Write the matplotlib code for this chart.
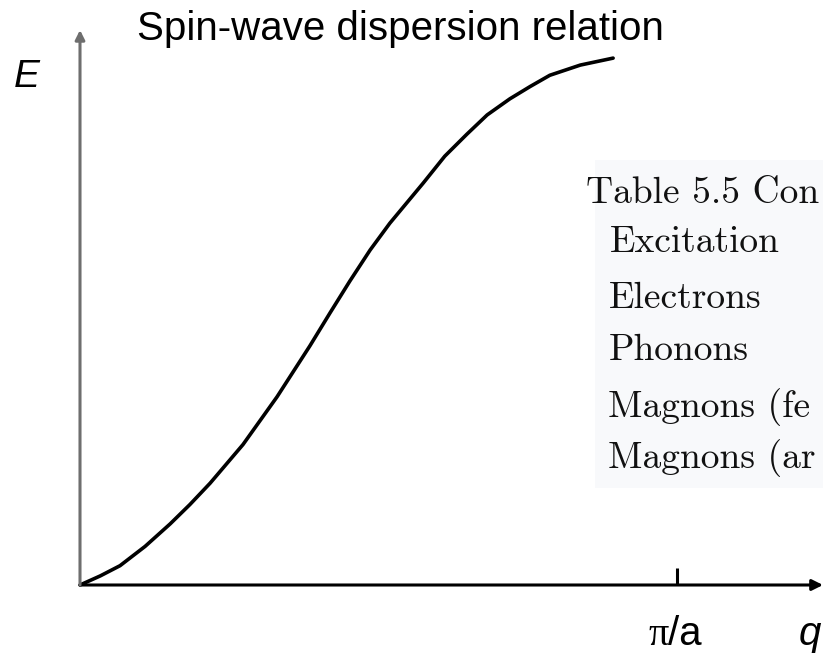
import matplotlib
matplotlib.use("Agg")
import matplotlib.pyplot as plt
from matplotlib.patches import Rectangle

# Dispersion curve: wavevector q in units of pi/a, energy E normalised to its top value
q_values = [0.000, 0.034, 0.067, 0.109, 0.151, 0.184, 0.218, 0.273, 0.330,
            0.385, 0.419, 0.452, 0.486, 0.519, 0.575, 0.611, 0.648, 0.682,
            0.720, 0.754, 0.787, 0.838, 0.893]
e_values = [0.000, 0.017, 0.036, 0.072, 0.114, 0.150, 0.190, 0.262, 0.351,
            0.446, 0.508, 0.567, 0.625, 0.675, 0.750, 0.800, 0.841, 0.877,
            0.907, 0.930, 0.951, 0.970, 0.983]

zone_edge = 1.0          # q = pi/a
title = "Spin-wave dispersion relation"
x_label = "q"
y_label = "E"
edge_label = ("π", "/a")
table_lines = ["Table 5.5 Con", "Excitation", "Electrons", "Phonons",
               "Magnons (fe", "Magnons (ar"]

W, H = 823, 653
fig = plt.figure(figsize=(W / 100, H / 100), dpi=100)
fig.patch.set_facecolor("white")

def fx(px):
    return px / W

def fy(py):
    return 1 - py / H

# axes: origin at pixel (80, 585), right edge of figure, top arrow at y=30
ax = fig.add_axes([fx(80), fy(585), 1 - fx(80), (585 - 30) / H])
ax.set_xlim(0, (W - 80) / 597)
ax.set_ylim(0, (585 - 30) / 536)
ax.axis("off")

# faint backdrop behind the table excerpt
fig.patches.append(Rectangle((fx(595), fy(488)), 1 - fx(595), (488 - 160) / H,
                             transform=fig.transFigure, facecolor="#f8f9fb",
                             edgecolor="none", zorder=0))

# coordinate axes with arrowheads
ax.annotate("", xy=(1.0, 0), xytext=(0, 0), xycoords="axes fraction",
            arrowprops=dict(arrowstyle="-|>", color="black", lw=2.2,
                            mutation_scale=16, shrinkA=0, shrinkB=0),
            annotation_clip=False)
ax.annotate("", xy=(0, 1.0), xytext=(0, 0), xycoords="axes fraction",
            arrowprops=dict(arrowstyle="-|>", color="#6e6e6e", lw=2.2,
                            mutation_scale=14, shrinkA=0, shrinkB=0),
            annotation_clip=False)

# tick mark at the zone boundary
ax.plot([zone_edge, zone_edge], [0, 17 / 536], color="black", lw=2.2,
        solid_capstyle="butt", clip_on=False)

# dispersion curve
ax.plot(q_values, e_values, color="black", lw=2.6, solid_joinstyle="round",
        solid_capstyle="round", clip_on=False)

sans = ["Liberation Sans", "DejaVu Sans"]
serif = ["Liberation Serif", "DejaVu Serif"]
fig.text(fx(400), fy(40), title, ha="center", va="baseline",
         fontsize=29, family=sans, color="black")
fig.text(fx(27), fy(87), y_label, ha="center", va="baseline",
         fontsize=28, family=sans, style="italic", color="black")
fig.text(fx(669), fy(645), edge_label[0], ha="right", va="baseline",
         fontsize=29, family=serif, color="black")
fig.text(fx(668), fy(645), edge_label[1], ha="left", va="baseline",
         fontsize=29, family=sans, color="black")
fig.text(fx(799), fy(645), x_label, ha="left", va="baseline",
         fontsize=29, family=sans, style="italic", color="black")

# table excerpt in Computer Modern
baselines = [203, 252, 308, 360, 417, 468]
lefts = [586, 610, 609, 609, 608, 608]
for txt, x0, yb in zip(table_lines, lefts, baselines):
    fig.text(fx(x0), fy(yb), txt, ha="left", va="baseline", fontsize=27,
             family="cmr10", color="#111111")

fig.savefig("out.png", dpi=100, facecolor="white")
